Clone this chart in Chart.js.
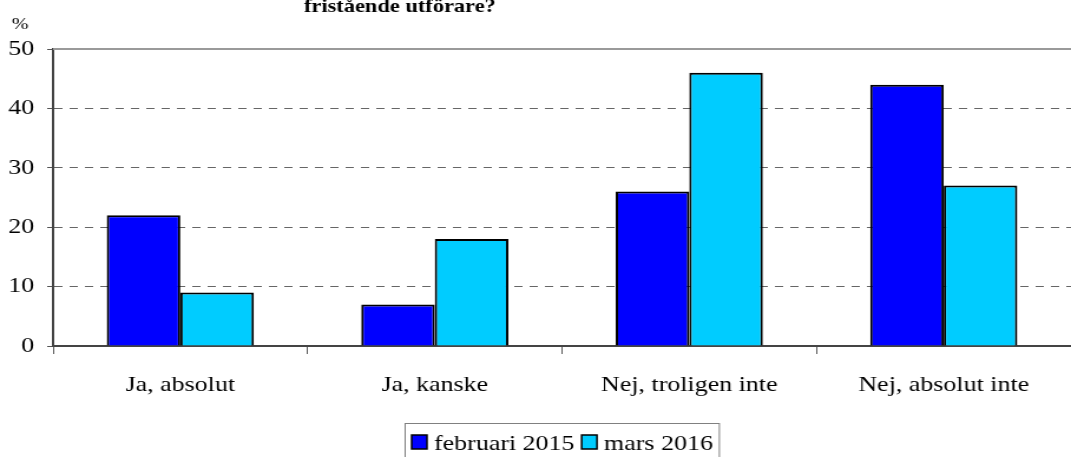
<!DOCTYPE html>
<html>
<head>
<meta charset="utf-8">
<script src="https://cdn.jsdelivr.net/npm/chart.js@4.4.0/dist/chart.umd.min.js"></script>
<style>
  html, body { margin: 0; padding: 0; background: #fff; overflow: hidden; }
  /* the original picture is stretched sideways, so the canvas is too */
  #wrap { width: 908px; height: 457px; transform: scaleX(1.1795); transform-origin: 0 0; }
</style>
</head>
<body>
<div id="wrap"><canvas id="chart" width="908" height="457"></canvas></div>
<script>
// data
const categories = ['Ja, absolut', 'Ja, kanske', 'Nej, troligen inte', 'Nej, absolut inte'];
const feb2015 = [22, 7, 26, 44];
const mars2016 = [9, 18, 46, 27];
const seriesNames = ['februari 2015', 'mars 2016'];
const seriesColors = ['#0000ff', '#00ccff'];
const yTicks = [0, 10, 20, 30, 40, 50];

const serif = '"Liberation Serif", "Times New Roman", serif';

// title remnant, % label, solid top line and the framed legend
const extras = {
    id: 'extras',
    afterDraw(chart) {
        const ctx = chart.ctx;
        const area = chart.chartArea;
        ctx.save();
        ctx.strokeStyle = '#9a9a9a';
        ctx.lineWidth = 2;
        ctx.beginPath();
        ctx.moveTo(area.left, area.top);
        ctx.lineTo(area.right, area.top);
        ctx.stroke();

        ctx.fillStyle = '#000';
        ctx.font = 'bold 19px ' + serif;
        ctx.textAlign = 'center';
        ctx.textBaseline = 'alphabetic';
        ctx.fillText('fristående utförare?', 339, 12);

        ctx.font = '17px ' + serif;
        ctx.textAlign = 'left';
        ctx.fillText('%', 10, 29);

        // legend
        const top = 423;
        ctx.strokeStyle = '#808080';
        ctx.lineWidth = 1;
        ctx.font = '22px ' + serif;
        let x = 349;
        const items = [];
        chart.data.datasets.forEach((ds, i) => {
            const w = ctx.measureText(seriesNames[i]).width;
            items.push({ x: x, w: w, color: seriesColors[i], text: seriesNames[i] });
            x += 19 + w + 6;
        });
        const right = x - 6 + 5;
        ctx.strokeRect(343.5, top + 0.5, right - 343, 60);
        items.forEach(it => {
            ctx.fillStyle = it.color;
            ctx.fillRect(it.x, top + 12, 13, 14);
            ctx.strokeStyle = '#000';
            ctx.lineWidth = 1.5;
            ctx.strokeRect(it.x, top + 12, 13, 14);
            ctx.fillStyle = '#000';
            ctx.fillText(it.text, it.x + 19, top + 27);
        });
        ctx.restore();
    }
};

new Chart(document.getElementById('chart'), {
    type: 'bar',
    data: {
        labels: categories,
        datasets: [
            { label: seriesNames[0], data: feb2015, backgroundColor: seriesColors[0], borderColor: '#000', borderWidth: 2 },
            { label: seriesNames[1], data: mars2016, backgroundColor: seriesColors[1], borderColor: '#000', borderWidth: 2 }
        ]
    },
    options: {
        responsive: false,
        animation: false,
        layout: { padding: { top: 49, right: 0, left: 0, bottom: 34 } },
        datasets: { bar: { categoryPercentage: 0.578, barPercentage: 1 } },
        plugins: {
            legend: { display: false },
            title: { display: false },
            tooltip: { enabled: false }
        },
        scales: {
            x: {
                afterFit(scale) { scale.height = 77; },
                grid: { offset: true, drawOnChartArea: false, tickLength: 8, tickColor: '#555' },
                border: { color: '#444', width: 2 },
                ticks: { font: { family: serif, size: 22 }, color: '#000', padding: 18 }
            },
            y: {
                min: 0, max: 50,
                afterBuildTicks(scale) { scale.ticks = yTicks.map(v => ({ value: v })); },
                afterFit(scale) { scale.width = 45; },
                grid: {
                    color: c => (c.tick && c.tick.value === 0) ? 'rgba(0,0,0,0)' : '#666',
                    tickColor: '#555',
                    tickLength: 5,
                    tickBorderDash: []
                },
                border: { color: '#444', width: 2, dash: [7, 6] },
                ticks: { font: { family: serif, size: 22 }, color: '#000', padding: 11 }
            }
        }
    },
    plugins: [extras]
});
</script>
</body>
</html>
